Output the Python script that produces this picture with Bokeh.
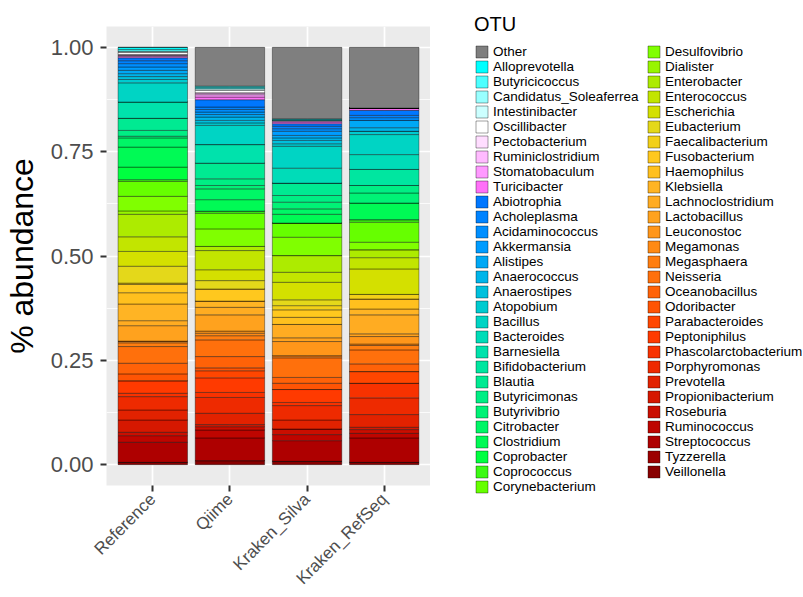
import math
from bokeh.plotting import figure
from bokeh.layouts import row
from bokeh.models import (ColumnDataSource, FactorRange, Range1d, Legend, LegendItem,
                          FixedTicker, NumeralTickFormatter)
from bokeh.embed import file_html
from bokeh.resources import INLINE

samples = ["Reference", "Qiime", "Kraken_Silva", "Kraken_RefSeq"]

# legend order (top of stack first)
otus = ["Other", "Alloprevotella", "Butyricicoccus", "Candidatus_Soleaferrea", "Intestinibacter",
        "Oscillibacter", "Pectobacterium", "Ruminiclostridium", "Stomatobaculum", "Turicibacter",
        "Abiotrophia", "Acholeplasma", "Acidaminococcus", "Akkermansia", "Alistipes",
        "Anaerococcus", "Anaerostipes", "Atopobium", "Bacillus", "Bacteroides",
        "Barnesiella", "Bifidobacterium", "Blautia", "Butyricimonas", "Butyrivibrio",
        "Citrobacter", "Clostridium", "Coprobacter", "Coprococcus", "Corynebacterium",
        "Desulfovibrio", "Dialister", "Enterobacter", "Enterococcus", "Escherichia",
        "Eubacterium", "Faecalibacterium", "Fusobacterium", "Haemophilus", "Klebsiella",
        "Lachnoclostridium", "Lactobacillus", "Leuconostoc", "Megamonas", "Megasphaera",
        "Neisseria", "Oceanobacillus", "Odoribacter", "Parabacteroides", "Peptoniphilus",
        "Phascolarctobacterium", "Porphyromonas", "Prevotella", "Propionibacterium", "Roseburia",
        "Ruminococcus", "Streptococcus", "Tyzzerella", "Veillonella"]

reference = [0, 0.005, 0.004, 0.002, 0, 0.006, 0.002, 0, 0.003, 0.003,
             0.007, 0.007, 0.008, 0.008, 0.008, 0.007, 0.007, 0.008, 0.046, 0,
             0.039, 0, 0.029, 0.014, 0.004, 0.022, 0.048, 0.030, 0.004, 0.036,
             0.035, 0.008, 0.054, 0.035, 0.0355, 0.0405, 0.003, 0.020, 0.027, 0.040,
             0.012, 0.037, 0, 0.004, 0.009, 0.040, 0.0255, 0.0165, 0, 0.030,
             0.008, 0.032, 0.024, 0.0295, 0.008, 0.016, 0.048, 0, 0.0055]

qiime = [0.093, 0.003, 0.003, 0, 0.004, 0.006, 0, 0.0045, 0.0055, 0.0065,
         0.0175, 0.006, 0.006, 0.006, 0.006, 0.008, 0.006, 0.006, 0.046, 0,
         0.0445, 0, 0.0375, 0.016, 0.008, 0.026, 0.0275, 0, 0.005, 0.0375,
         0.042, 0, 0.010, 0.046, 0.026, 0.020, 0, 0.029, 0, 0.015,
         0.018, 0.039, 0.005, 0.006, 0.010, 0.040, 0.027, 0.007, 0.017, 0.035,
         0.012, 0.038, 0.027, 0.005, 0.008, 0.019, 0.0544, 0, 0.0096]

kraken_silva = [0.171, 0.002, 0.002, 0, 0, 0, 0, 0.002, 0.002, 0.004,
                0.006, 0.006, 0.006, 0.010, 0.006, 0.006, 0.008, 0.006, 0.0525, 0.036,
                0, 0, 0.0295, 0.016, 0.016, 0.013, 0.021, 0, 0, 0.034,
                0.044, 0, 0.040, 0.024, 0.042, 0.014, 0.010, 0.018, 0.017, 0,
                0.032, 0.009, 0.034, 0, 0.005, 0.047, 0.014, 0.015, 0, 0.031,
                0.0075, 0.0345, 0.0215, 0, 0.0135, 0.0145, 0.0495, 0, 0.008]

kraken_refseq = [0.1455, 0, 0, 0, 0, 0, 0, 0, 0, 0.0055,
                 0.012, 0.0055, 0.0065, 0, 0.0175, 0.0085, 0, 0.008, 0.048, 0.0355,
                 0, 0.0385, 0, 0.018, 0.024, 0, 0.040, 0, 0.006, 0.048,
                 0.018, 0, 0.019, 0.027, 0.061, 0, 0.011, 0, 0.024, 0.014,
                 0.0455, 0.0065, 0.018, 0.0035, 0.0105, 0.0335, 0.0185, 0, 0.028, 0,
                 0.035, 0.040, 0.0305, 0.0055, 0.009, 0.011, 0.0585, 0, 0.0055]

palette = ["#7F7F7F", "#00FFFF", "#4DFFFF", "#99FFFF", "#CCFFFF",
           "#FFFFFF", "#FFDDFF", "#FFBBFF", "#FF99FF", "#FF70F8",
           "#0077FF", "#0083FF", "#008FFF", "#009CFF", "#00A8F5",
           "#00B5EA", "#00C0DD", "#00CBD0", "#00D4C4", "#00DCB8",
           "#00E2AC", "#00E6A0", "#00EA92", "#00EE84", "#00F276",
           "#00F666", "#00FA55", "#00FF40", "#3CFA14", "#66FF00",
           "#80FF00", "#98F500", "#ADEB00", "#C2E500", "#D4E000",
           "#E4D81A", "#F2D018", "#FFC81E", "#FFC01E", "#FFB424",
           "#FFAC22", "#FFA21E", "#FF961A", "#FF8A14", "#FF7E10",
           "#FF700C", "#FF6208", "#FF5404", "#FF4600", "#FF3A00",
           "#F83200", "#EE2A00", "#E22200", "#D61800", "#CA0E00",
           "#BE0500", "#AE0000", "#9C0000", "#880000"]

FONT = "Liberation Sans"
H = 597

data = {"sample": samples}
for i, name in enumerate(otus):
    data[name] = [reference[i], qiime[i], kraken_silva[i], kraken_refseq[i]]
source = ColumnDataSource(data)

stack_order = otus[::-1]
stack_colors = palette[::-1]

p = figure(x_range=FactorRange(factors=samples, range_padding=0.05, range_padding_units="percent"),
           y_range=Range1d(-0.05, 1.05), width=430, height=H,
           output_backend="svg", toolbar_location=None,
           min_border_left=106, min_border_right=0, min_border_top=26, min_border_bottom=112)
p.frame_align = False

p.vbar_stack(stack_order, x="sample", width=0.9, source=source,
             fill_color=stack_colors, line_color="black", line_width=0.5, line_alpha=0.75)

p.background_fill_color = "#EBEBEB"
p.border_fill_color = "white"
p.outline_line_color = None

p.xgrid.grid_line_color = "white"
p.xgrid.grid_line_width = 1.7
p.ygrid.grid_line_color = "white"
p.ygrid.grid_line_width = 1.7
p.ygrid.minor_grid_line_color = "white"
p.ygrid.minor_grid_line_width = 0.8

p.yaxis.ticker = FixedTicker(ticks=[0, 0.25, 0.5, 0.75, 1.0], minor_ticks=[0.125, 0.375, 0.625, 0.875])
p.yaxis.formatter = NumeralTickFormatter(format="0.00")
p.yaxis.axis_label = "% abundance"
p.yaxis.axis_label_text_font_size = "32px"
p.yaxis.axis_label_text_font_style = "normal"
p.yaxis.axis_label_text_font = FONT
p.yaxis.axis_label_text_color = "black"
p.yaxis.axis_label_standoff = 8

for ax in (p.xaxis[0], p.yaxis[0]):
    ax.axis_line_color = None
    ax.major_tick_line_color = "#333333"
    ax.major_tick_line_width = 2
    ax.major_tick_out = 6
    ax.major_tick_in = 0
    ax.minor_tick_out = 0
    ax.minor_tick_in = 0
    ax.major_label_text_color = "#4D4D4D"
    ax.major_label_text_font = FONT

p.yaxis.major_label_text_font_size = "22px"
p.yaxis.major_label_standoff = 7
p.xaxis.major_label_text_font_size = "17px"
p.xaxis.major_label_orientation = math.pi / 4
p.xaxis.major_label_standoff = 5

# legend panel
q = figure(width=803 - 430, height=H, x_range=Range1d(0, 1), y_range=Range1d(0, 1),
           output_backend="svg", toolbar_location=None, x_axis_type=None, y_axis_type=None,
           min_border=0)
q.frame_align = False
q.outline_line_color = None
q.grid.visible = False
q.background_fill_color = "white"
q.border_fill_color = "white"

items = []
for name, col in zip(otus, palette):
    # zero-height key renderer placed outside the visible range; only its legend swatch shows
    r = q.vbar(x=[5], top=[0], width=0.1, fill_color=col, line_color="black",
               line_width=0.5, line_alpha=0.75)
    items.append(LegendItem(label=name, renderers=[r]))

def make_legend(its, loc, title=None):
    kw = dict(items=its, location=loc, glyph_width=15, glyph_height=15, label_height=15,
              label_standoff=4, spacing=0, padding=0, margin=0, border_line_color=None,
              background_fill_alpha=0, label_text_font_size="13.5px", label_text_font=FONT,
              label_text_color="black")
    if title:
        kw.update(title=title, title_text_font_size="20px", title_text_font_style="normal",
                  title_text_font=FONT, title_text_color="black", title_standoff=8)
    return Legend(**kw)

q.add_layout(make_legend(items[:30], (44, H - 494), "OTU"), "center")
q.add_layout(make_legend(items[30:], (216, H - 479)), "center")

open("out.html", "w").write(file_html(row(p, q), INLINE))
